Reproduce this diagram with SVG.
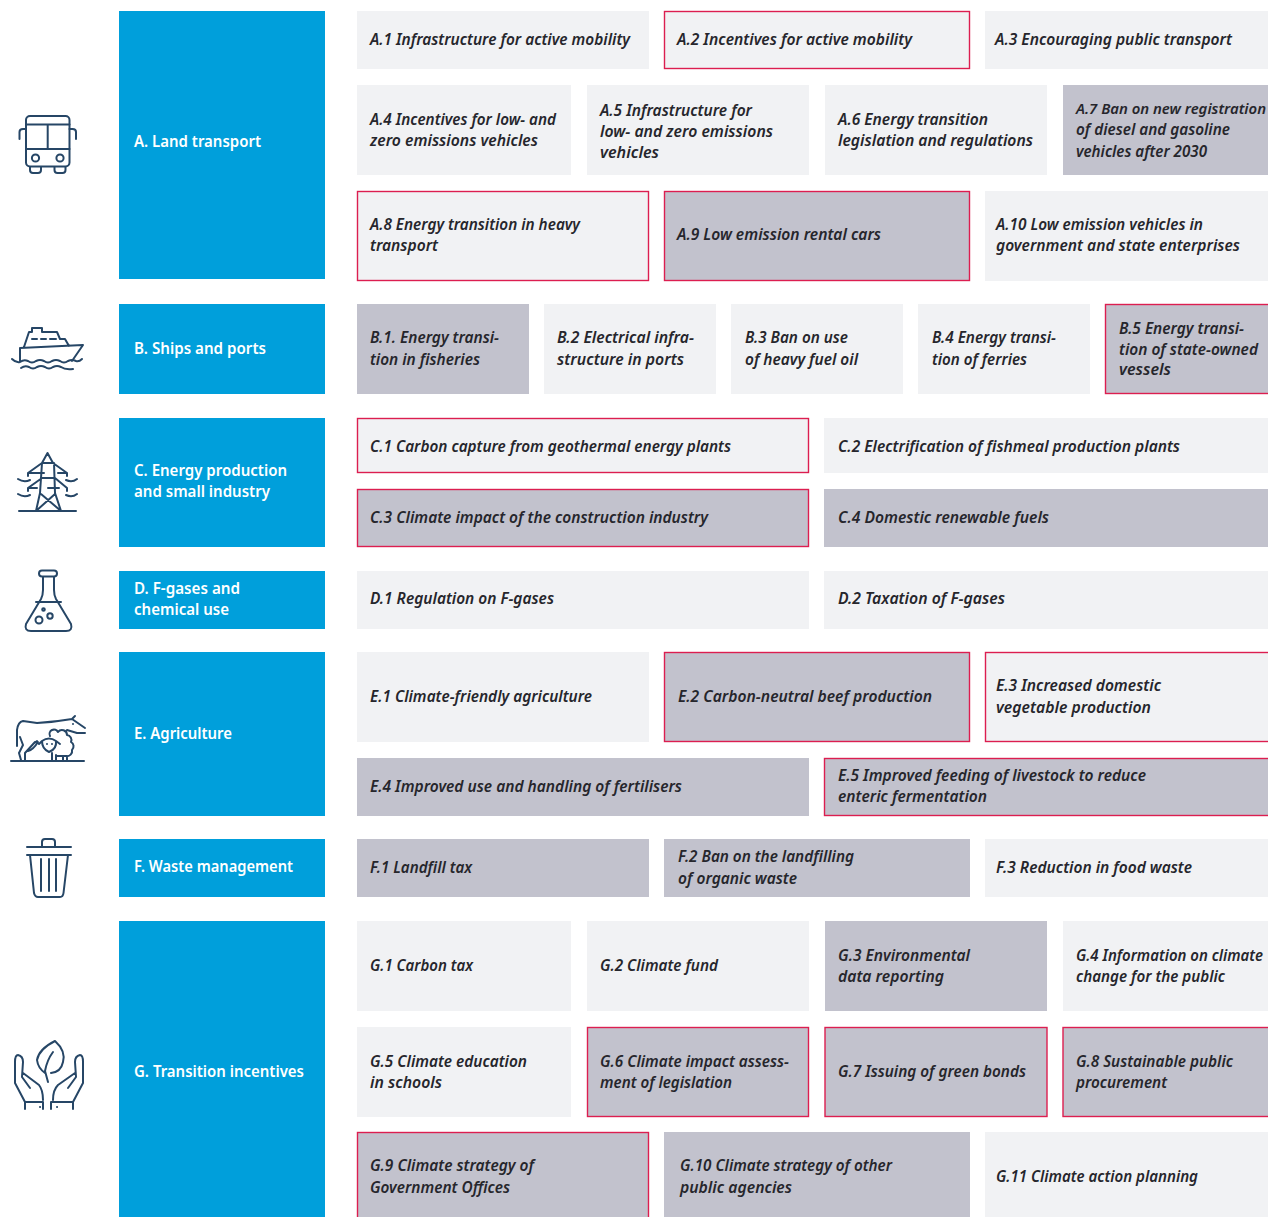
<svg xmlns="http://www.w3.org/2000/svg" width="1268" height="1217" viewBox="0 0 1268 1217">
<style>
text{font-family:"Noto Sans","Open Sans","Liberation Sans",sans-serif}
.h{fill:#009fdb}
.ht{fill:#fff;font-size:15.5px;font-weight:600}
.l{fill:#f1f2f4}
.d{fill:#c2c2cd}
.r{stroke:#dc1e50;stroke-width:1.4}
.t{fill:#26262c;font-size:15.5px;font-weight:600;font-style:italic}
.i{fill:none;stroke:#264666;stroke-width:2;stroke-linecap:round;stroke-linejoin:round}
</style>
<g id="icon-bus" class="i"><rect x="26" y="116" width="43.500" height="50.500" rx="4"/><path d="M26 124.500H69.500M47.700 124.500V149M26 149H69.500M19.500 139V132Q19.500 129 23 129H26M76 139V132Q76 129 72.500 129H69.500M30 167V170Q30 173 33 173H38Q41 173 41 170V167M54.500 167V170Q54.500 173 57.500 173H62.500Q65.500 173 65.500 170V167"/><circle cx="35.500" cy="158" r="3.600"/><circle cx="60" cy="158" r="3.600"/></g>
<g id="icon-ship" class="i"><path d="M20 361V348L83 345L72 361M24 347L29 332H32V328H42V332H57L60 339H65L69 346M32 339H37M41 339H46M50 339H56M12 359Q16 363 20 362Q24 359 28 361Q32 364 36 361Q40 359 44 361Q48 364 52 361Q56 359 60 361Q64 364 68 361Q72 359 76 361Q79 362 82 359M21 368Q25 365 29 367Q33 370 37 367Q41 365 45 367Q49 370 53 367Q57 365 61 367Q65 370 73 369"/></g>
<g id="icon-pylon" class="i"><path d="M28 476V473L42 463L47.500 453L53 463L67 473V476M42 463H54M28 473H44M58 473H67M28 491V488L42 478H55L67 488V491M28 488H37M48 488H59M42 463L40 493L36 511M54 463L55 493L61 511M36 511L55 494M61 511L41 494M19 511H76M18 479Q24 483 30 480M66 480Q72 483 77 479M18 494Q24 498 30 495M66 495Q72 498 77 494"/></g>
<g id="icon-flask" class="i"><rect x="39" y="570.500" width="18" height="6" rx="3"/><path d="M43 577V590Q43 595 41 599L26 624Q24 631 31 631H66Q73 631 71 624L56 599Q54 595 54 590V577M36 602H61"/><circle cx="39" cy="620" r="3.500"/><circle cx="50" cy="616" r="2.700"/><circle cx="43.500" cy="609.500" r="1.300"/></g>
<g id="icon-farm" class="i"><path d="M11 761H84M17 746V730Q18 722 23 721Q30 722 37 723Q55 722 72 719L75 716M72 719L85 728M67 730L77 733H85M73 724V724.100M20 737L23 745L19 753L21 760M35 742L25 753V760M28 751Q33 750 38 742M28 751Q31 745 37 741M50 736A4 4 0 0 1 58 732A5 5 0 0 1 67 735A5 5 0 0 1 71 742A5 5 0 0 1 72 750A5 5 0 0 1 66 756H56M42 741Q49 736 56 741Q57 749 49 752Q42 749 42 741ZM42 741L39 744M56 741L60 744M52 753V761M56 755V761M63 756V761M67 756V761M47 744V744.100M52 744V744.100"/></g>
<g id="icon-trash" class="i"><path d="M27 847H71M27 855H71M42 847V842Q42 839 45 839H52Q55 839 55 842V847M30 855L34 893Q35 897 38 897H60Q63 897 63.500 893L68 855M41 859V891M49 859V891M56 859V891"/></g>
<g id="icon-hands" class="i"><path d="M55 1041Q39 1049 37 1060Q38 1068 45 1073M55 1041Q66 1051 63 1062Q61 1072 51 1073M48 1082L45 1071Q47 1060 53 1052M25 1109V1102H43V1109M25 1102L15 1083V1062Q15 1055 18 1055Q23 1056 23 1062L22 1077L30 1088M23 1073L39 1085Q43 1090 43 1100M73 1109V1102H51V1109M73 1102L83 1083V1062Q83 1055 80 1055Q75 1056 75 1062L76 1077L68 1088M75 1073L58 1085Q53 1090 53 1100M40 1107H40.100M57 1107H57.100"/></g>

<g id="A"><rect class="h" x="119" y="11" width="206" height="268"/><text class="ht" x="134" y="147" textLength="127" lengthAdjust="spacingAndGlyphs">A. Land transport</text></g>
<g id="B"><rect class="h" x="119" y="304" width="206" height="90"/><text class="ht" x="134" y="354" textLength="132" lengthAdjust="spacingAndGlyphs">B. Ships and ports</text></g>
<g id="C"><rect class="h" x="119" y="418" width="206" height="129"/><text class="ht" x="134" y="476" textLength="153" lengthAdjust="spacingAndGlyphs">C. Energy production</text><text class="ht" x="134" y="497" textLength="136" lengthAdjust="spacingAndGlyphs">and small industry</text></g>
<g id="D"><rect class="h" x="119" y="571" width="206" height="58"/><text class="ht" x="134" y="594" textLength="106" lengthAdjust="spacingAndGlyphs">D. F-gases and</text><text class="ht" x="134" y="615" textLength="95" lengthAdjust="spacingAndGlyphs">chemical use</text></g>
<g id="E"><rect class="h" x="119" y="652" width="206" height="164"/><text class="ht" x="134" y="739" textLength="98" lengthAdjust="spacingAndGlyphs">E. Agriculture</text></g>
<g id="F"><rect class="h" x="119" y="839" width="206" height="58"/><text class="ht" x="134" y="872" textLength="159" lengthAdjust="spacingAndGlyphs">F. Waste management</text></g>
<g id="G"><rect class="h" x="119" y="921" width="206" height="300"/><text class="ht" x="134" y="1077" textLength="170" lengthAdjust="spacingAndGlyphs">G. Transition incentives</text></g>

<g id="A1"><rect class="l" x="357" y="11" width="292" height="58"/><text class="t" x="370" y="45" textLength="260" lengthAdjust="spacingAndGlyphs">A.1 Infrastructure for active mobility</text></g>
<g id="A2"><rect class="l r" x="664.500" y="11.500" width="305" height="57"/><text class="t" x="677" y="45" textLength="235" lengthAdjust="spacingAndGlyphs">A.2 Incentives for active mobility</text></g>
<g id="A3"><rect class="l" x="985" y="11" width="283" height="58"/><text class="t" x="995" y="45" textLength="237" lengthAdjust="spacingAndGlyphs">A.3 Encouraging public transport</text></g>
<g id="A4"><rect class="l" x="357" y="85" width="214" height="90"/><text class="t" x="370" y="125" textLength="186" lengthAdjust="spacingAndGlyphs">A.4 Incentives for low- and</text><text class="t" x="370" y="146" textLength="168" lengthAdjust="spacingAndGlyphs">zero emissions vehicles</text></g>
<g id="A5"><rect class="l" x="587" y="85" width="222" height="90"/><text class="t" x="600" y="116" textLength="152" lengthAdjust="spacingAndGlyphs">A.5 Infrastructure for</text><text class="t" x="600" y="137" textLength="173" lengthAdjust="spacingAndGlyphs">low- and zero emissions</text><text class="t" x="600" y="158" textLength="59" lengthAdjust="spacingAndGlyphs">vehicles</text></g>
<g id="A6"><rect class="l" x="825" y="85" width="222" height="90"/><text class="t" x="838" y="125" textLength="150" lengthAdjust="spacingAndGlyphs">A.6 Energy transition</text><text class="t" x="838" y="146" textLength="195" lengthAdjust="spacingAndGlyphs">legislation and regulations</text></g>
<g id="A7"><rect class="d" x="1063" y="85" width="205" height="90"/><text class="t" x="1076" y="114" style="font-size:14.5px" textLength="190" lengthAdjust="spacingAndGlyphs">A.7 Ban on new registration</text><text class="t" x="1076" y="135" textLength="154" lengthAdjust="spacingAndGlyphs">of diesel and gasoline</text><text class="t" x="1076" y="157" textLength="131" lengthAdjust="spacingAndGlyphs">vehicles after 2030</text></g>
<g id="A8"><rect class="l r" x="357.500" y="191.500" width="291" height="89"/><text class="t" x="370" y="230" textLength="210" lengthAdjust="spacingAndGlyphs">A.8 Energy transition in heavy</text><text class="t" x="370" y="251" textLength="68" lengthAdjust="spacingAndGlyphs">transport</text></g>
<g id="A9"><rect class="d r" x="664.500" y="191.500" width="305" height="89"/><text class="t" x="677" y="240" textLength="204" lengthAdjust="spacingAndGlyphs">A.9 Low emission rental cars</text></g>
<g id="A10"><rect class="l" x="985" y="191" width="283" height="90"/><text class="t" x="996" y="230" textLength="207" lengthAdjust="spacingAndGlyphs">A.10 Low emission vehicles in</text><text class="t" x="996" y="251" textLength="244" lengthAdjust="spacingAndGlyphs">government and state enterprises</text></g>

<g id="B1"><rect class="d" x="357" y="304" width="172" height="90"/><text class="t" x="370" y="343" textLength="129" lengthAdjust="spacingAndGlyphs">B.1. Energy transi-</text><text class="t" x="370" y="365" textLength="110" lengthAdjust="spacingAndGlyphs">tion in fisheries</text></g>
<g id="B2"><rect class="l" x="544" y="304" width="172" height="90"/><text class="t" x="557" y="343" textLength="137" lengthAdjust="spacingAndGlyphs">B.2 Electrical infra-</text><text class="t" x="557" y="365" textLength="127" lengthAdjust="spacingAndGlyphs">structure in ports</text></g>
<g id="B3"><rect class="l" x="731" y="304" width="172" height="90"/><text class="t" x="745" y="343" textLength="103" lengthAdjust="spacingAndGlyphs">B.3 Ban on use</text><text class="t" x="745" y="365" textLength="113" lengthAdjust="spacingAndGlyphs">of heavy fuel oil</text></g>
<g id="B4"><rect class="l" x="918" y="304" width="172" height="90"/><text class="t" x="932" y="343" textLength="124" lengthAdjust="spacingAndGlyphs">B.4 Energy transi-</text><text class="t" x="932" y="365" textLength="95" lengthAdjust="spacingAndGlyphs">tion of ferries</text></g>
<g id="B5"><rect class="d r" x="1105.500" y="304.500" width="170" height="89"/><text class="t" x="1119" y="334" textLength="125" lengthAdjust="spacingAndGlyphs">B.5 Energy transi-</text><text class="t" x="1119" y="355" textLength="139" lengthAdjust="spacingAndGlyphs">tion of state-owned</text><text class="t" x="1119" y="375" textLength="52" lengthAdjust="spacingAndGlyphs">vessels</text></g>

<g id="C1"><rect class="l r" x="357.500" y="418.500" width="451" height="54"/><text class="t" x="370" y="452" textLength="361" lengthAdjust="spacingAndGlyphs">C.1 Carbon capture from geothermal energy plants</text></g>
<g id="C2"><rect class="l" x="824" y="418" width="444" height="55"/><text class="t" x="838" y="452" textLength="342" lengthAdjust="spacingAndGlyphs">C.2 Electrification of fishmeal production plants</text></g>
<g id="C3"><rect class="d r" x="357.500" y="489.500" width="451" height="57"/><text class="t" x="370" y="523" textLength="338" lengthAdjust="spacingAndGlyphs">C.3 Climate impact of the construction industry</text></g>
<g id="C4"><rect class="d" x="824" y="489" width="444" height="58"/><text class="t" x="838" y="523" textLength="211" lengthAdjust="spacingAndGlyphs">C.4 Domestic renewable fuels</text></g>

<g id="D1"><rect class="l" x="357" y="571" width="452" height="58"/><text class="t" x="370" y="604" textLength="184" lengthAdjust="spacingAndGlyphs">D.1 Regulation on F-gases</text></g>
<g id="D2"><rect class="l" x="824" y="571" width="444" height="58"/><text class="t" x="838" y="604" textLength="167" lengthAdjust="spacingAndGlyphs">D.2 Taxation of F-gases</text></g>

<g id="E1"><rect class="l" x="357" y="652" width="292" height="90"/><text class="t" x="370" y="702" textLength="222" lengthAdjust="spacingAndGlyphs">E.1 Climate-friendly agriculture</text></g>
<g id="E2"><rect class="d r" x="664.500" y="652.500" width="305" height="89"/><text class="t" x="678" y="702" textLength="254" lengthAdjust="spacingAndGlyphs">E.2 Carbon-neutral beef production</text></g>
<g id="E3"><rect class="l r" x="985.500" y="652.500" width="290" height="89"/><text class="t" x="996" y="691" textLength="165" lengthAdjust="spacingAndGlyphs">E.3 Increased domestic</text><text class="t" x="996" y="713" textLength="155" lengthAdjust="spacingAndGlyphs">vegetable production</text></g>
<g id="E4"><rect class="d" x="357" y="758" width="452" height="58"/><text class="t" x="370" y="792" textLength="312" lengthAdjust="spacingAndGlyphs">E.4 Improved use and handling of fertilisers</text></g>
<g id="E5"><rect class="d r" x="824.500" y="758.500" width="451" height="57"/><text class="t" x="838" y="781" textLength="308" lengthAdjust="spacingAndGlyphs">E.5 Improved feeding of livestock to reduce</text><text class="t" x="838" y="802" textLength="149" lengthAdjust="spacingAndGlyphs">enteric fermentation</text></g>

<g id="F1"><rect class="d" x="357" y="839" width="292" height="58"/><text class="t" x="370" y="873" textLength="102" lengthAdjust="spacingAndGlyphs">F.1 Landfill tax</text></g>
<g id="F2"><rect class="d" x="664" y="839" width="306" height="58"/><text class="t" x="678" y="862" textLength="176" lengthAdjust="spacingAndGlyphs">F.2 Ban on the landfilling</text><text class="t" x="678" y="884" textLength="119" lengthAdjust="spacingAndGlyphs">of organic waste</text></g>
<g id="F3"><rect class="l" x="985" y="839" width="283" height="58"/><text class="t" x="996" y="873" textLength="196" lengthAdjust="spacingAndGlyphs">F.3 Reduction in food waste</text></g>

<g id="G1"><rect class="l" x="357" y="921" width="214" height="90"/><text class="t" x="370" y="971" textLength="103" lengthAdjust="spacingAndGlyphs">G.1 Carbon tax</text></g>
<g id="G2"><rect class="l" x="587" y="921" width="222" height="90"/><text class="t" x="600" y="971" textLength="118" lengthAdjust="spacingAndGlyphs">G.2 Climate fund</text></g>
<g id="G3"><rect class="d" x="825" y="921" width="222" height="90"/><text class="t" x="838" y="961" textLength="132" lengthAdjust="spacingAndGlyphs">G.3 Environmental</text><text class="t" x="838" y="982" textLength="106" lengthAdjust="spacingAndGlyphs">data reporting</text></g>
<g id="G4"><rect class="l" x="1063" y="921" width="205" height="90"/><text class="t" x="1076" y="961" textLength="187" lengthAdjust="spacingAndGlyphs">G.4 Information on climate</text><text class="t" x="1076" y="982" textLength="149" lengthAdjust="spacingAndGlyphs">change for the public</text></g>
<g id="G5"><rect class="l" x="357" y="1027" width="214" height="90"/><text class="t" x="370" y="1067" textLength="157" lengthAdjust="spacingAndGlyphs">G.5 Climate education</text><text class="t" x="370" y="1088" textLength="72" lengthAdjust="spacingAndGlyphs">in schools</text></g>
<g id="G6"><rect class="d r" x="587.500" y="1027.500" width="221" height="89"/><text class="t" x="600" y="1067" textLength="189" lengthAdjust="spacingAndGlyphs">G.6 Climate impact assess-</text><text class="t" x="600" y="1088" textLength="132" lengthAdjust="spacingAndGlyphs">ment of legislation</text></g>
<g id="G7"><rect class="d r" x="825" y="1027.500" width="222" height="89"/><text class="t" x="838" y="1077" textLength="188" lengthAdjust="spacingAndGlyphs">G.7 Issuing of green bonds</text></g>
<g id="G8"><rect class="d r" x="1063" y="1027.500" width="212" height="89"/><text class="t" x="1076" y="1067" textLength="157" lengthAdjust="spacingAndGlyphs">G.8 Sustainable public</text><text class="t" x="1076" y="1088" textLength="91" lengthAdjust="spacingAndGlyphs">procurement</text></g>
<g id="G9"><rect class="d r" x="357.500" y="1132.500" width="291" height="90"/><text class="t" x="370" y="1171" textLength="164" lengthAdjust="spacingAndGlyphs">G.9 Climate strategy of</text><text class="t" x="370" y="1193" textLength="140" lengthAdjust="spacingAndGlyphs">Government Offices</text></g>
<g id="G10"><rect class="d" x="664" y="1132" width="306" height="90"/><text class="t" x="680" y="1171" textLength="212" lengthAdjust="spacingAndGlyphs">G.10 Climate strategy of other</text><text class="t" x="680" y="1193" textLength="112" lengthAdjust="spacingAndGlyphs">public agencies</text></g>
<g id="G11"><rect class="l" x="985" y="1132" width="283" height="90"/><text class="t" x="996" y="1182" textLength="202" lengthAdjust="spacingAndGlyphs">G.11 Climate action planning</text></g>
</svg>
